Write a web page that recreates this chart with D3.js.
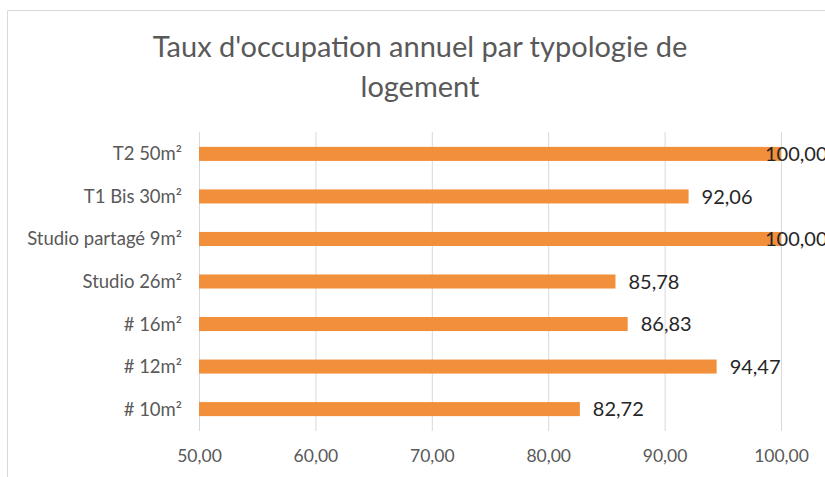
<!DOCTYPE html>
<html>
<head>
<meta charset="utf-8">
<script src="https://cdn.jsdelivr.net/npm/d3@7"></script>
<style>
  body { margin: 0; background: #fff; }
  svg { display: block; font-family: Lato, 'Open Sans', sans-serif; }
</style>
</head>
<body>
<div id="chart"></div>
<script>
const categories = ['T2 50m²', 'T1 Bis 30m²', 'Studio partagé 9m²', 'Studio 26m²', '# 16m²', '# 12m²', '# 10m²'];
const values = [100.0, 92.06, 100.0, 85.78, 86.83, 94.47, 82.72];
const xTicks = [50, 60, 70, 80, 90, 100];
const titleLines = ["Taux d'occupation annuel par typologie de", 'logement'];

const width = 825;
const height = 477;
const marginLeft = 199;
const marginTop = 132;
const plotBottom = 431;

const fmt = (v) => d3.format('.2f')(v).replace('.', ',');

const svg = d3
  .select('#chart')
  .append('svg')
  .attr('width', width)
  .attr('height', height);

// chart frame (right and bottom edges are cut off in the reference)
svg
  .append('path')
  .attr('d', `M7.5,${height}V10.5H${width}`)
  .attr('fill', 'none')
  .attr('stroke', '#d9d9d9');

const xScale = d3.scaleLinear().domain([50, 100]).range([marginLeft, 781]);

const yScale = d3
  .scaleBand()
  .domain(categories)
  .range([marginTop, plotBottom])
  .paddingInner(0.67)
  .paddingOuter(0.35);

// title
svg
  .append('text')
  .attr('x', 420)
  .attr('y', 57)
  .attr('text-anchor', 'middle')
  .attr('fill', '#595959')
  .style('font-size', '29px')
  .selectAll('tspan')
  .data(titleLines)
  .join('tspan')
  .attr('x', 420)
  .attr('dy', (d, i) => (i === 0 ? 0 : 40))
  .text((d) => d);

// gridlines + x tick labels
const xAxis = svg
  .append('g')
  .attr('transform', `translate(0,${plotBottom})`)
  .call(
    d3
      .axisBottom(xScale)
      .tickValues(xTicks)
      .tickSize(-(plotBottom - marginTop))
      .tickPadding(19)
      .tickFormat(fmt)
  )
  .call((g) => g.select('.domain').remove());

xAxis.selectAll('.tick line').attr('stroke', '#d9d9d9');
xAxis
  .selectAll('.tick text')
  .attr('fill', '#595959')
  .style('font-size', '17.5px')
  .style('font-family', 'Lato, sans-serif');

// y labels
svg
  .append('g')
  .selectAll('text')
  .data(categories)
  .join('text')
  .attr('x', marginLeft - 17)
  .attr('y', (d) => yScale(d) + yScale.bandwidth() / 2)
  .attr('dy', '0.35em')
  .attr('text-anchor', 'end')
  .attr('fill', '#595959')
  .style('font-size', '18.5px')
  .text((d) => d);

// bars
svg
  .append('g')
  .selectAll('rect')
  .data(values)
  .join('rect')
  .attr('x', xScale(50))
  .attr('y', (d, i) => yScale(categories[i]))
  .attr('width', (d) => xScale(d) - xScale(50))
  .attr('height', yScale.bandwidth())
  .attr('fill', '#F28F3B');

// data labels, pushed back inside when they would overflow
svg
  .append('g')
  .selectAll('text')
  .data(values)
  .join('text')
  .attr('x', (d) => Math.min(xScale(d) + 13, 765))
  .attr('y', (d, i) => yScale(categories[i]) + yScale.bandwidth() / 2)
  .attr('dy', '0.36em')
  .attr('fill', '#262626')
  .style('font-size', '20px')
  .text(fmt);
</script>
</body>
</html>
